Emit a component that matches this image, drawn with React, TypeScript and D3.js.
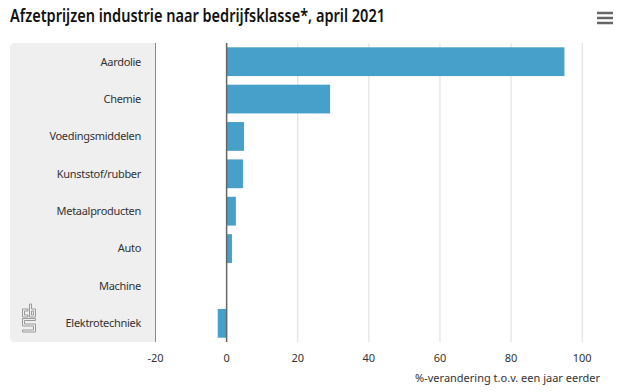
import React from "react";
import * as d3 from "d3";

const categories = [
  "Aardolie",
  "Chemie",
  "Voedingsmiddelen",
  "Kunststof/rubber",
  "Metaalproducten",
  "Auto",
  "Machine",
  "Elektrotechniek",
];
const values = [95.0, 29.1, 4.9, 4.6, 2.6, 1.5, 0.0, -2.5];
const xTicks = [-20, 0, 20, 40, 60, 80, 100];
const title = "Afzetprijzen industrie naar bedrijfsklasse*, april 2021";
const axisTitle = "%-verandering t.o.v. een jaar eerder";

const W = 625;
const H = 392;
const FONT = "'Noto Sans', 'Open Sans', sans-serif";

export default function App() {
  const plotTop = 43;
  const plotBottom = 342;
  const x = d3.scaleLinear().domain([-20, 105]).range([155.5, 600]);
  const y = d3
    .scaleBand<string>()
    .domain(categories)
    .range([plotTop, plotBottom])
    .paddingInner(0.23)
    .paddingOuter(0.115);
  const x0 = x(0);

  return (
    <svg
      width={W}
      height={H}
      style={{ position: "absolute", left: 0, top: 0, background: "#fff" }}
      fontFamily={FONT}
    >
      <rect width={W} height={H} fill="#fff" />
      <text
        x={10}
        y={22}
        fontSize={18}
        fontWeight={600}
        fill="#111"
        textLength={375}
        lengthAdjust="spacingAndGlyphs"
      >
        {title}
      </text>
      {/* menu icon */}
      {[13, 18, 23].map((yy) => (
        <line key={yy} x1={597} x2={613} y1={yy} y2={yy} stroke="#666" strokeWidth={2.5} />
      ))}

      {/* label panel */}
      <path
        d={`M${x(-20)},${plotTop} L15,${plotTop} Q10,${plotTop} 10,${plotTop + 5} L10,${plotBottom - 5} Q10,${plotBottom} 15,${plotBottom} L${x(-20)},${plotBottom} Z`}
        fill="#efefef"
      />

      {/* grid */}
      {xTicks.map((t) => (
        <line
          key={t}
          x1={x(t)}
          x2={x(t)}
          y1={plotTop}
          y2={plotBottom}
          stroke={t === -20 ? "#8a8a8a" : "#dddddd"}
          strokeWidth={1}
        />
      ))}

      {/* bars */}
      {categories.map((c, i) => {
        const v = values[i];
        const x1 = x(Math.min(0, v));
        const x2 = x(Math.max(0, v));
        return (
          <rect
            key={c}
            x={x1}
            y={y(c)}
            width={Math.max(0, x2 - x1)}
            height={y.bandwidth()}
            fill="#47a0ca"
          />
        );
      })}

      {/* zero line */}
      <line x1={x0} x2={x0} y1={plotTop} y2={plotBottom} stroke="#666" strokeWidth={1.5} />

      {/* category labels */}
      {categories.map((c) => (
        <text
          key={c}
          x={141}
          y={(y(c) as number) + y.bandwidth() / 2}
          dy="0.35em"
          textAnchor="end"
          fontSize={11}
          letterSpacing={-0.3}
          fill="#333"
        >
          {c}
        </text>
      ))}

      {/* x tick labels */}
      {xTicks.map((t) => (
        <text key={t} x={x(t)} y={362} textAnchor="middle" fontSize={11} fill="#333">
          {t}
        </text>
      ))}
      <text x={600} y={382} textAnchor="end" fontSize={11} fill="#333">
        {axisTitle}
      </text>

      {/* CBS logo */}
      <g fill="none" stroke="#9a9a9a" strokeWidth={1}>
        <path d="M22.5,309 L28,309 L28,311 L24.5,311 L24.5,315 L28,315 L28,317 L22.5,317 Z" />
        <path d="M29.5,304 L31.5,304 L31.5,309 L35.5,309 L35.5,317 L29.5,317 Z" />
        <path d="M31.5,311 L33.5,311 L33.5,315 L31.5,315 Z" />
        <path d="M22.5,318.5 L35.5,318.5 L35.5,320.5 L24.5,320.5 L24.5,324 L35.5,324 L35.5,332 L22.5,332 L22.5,330 L33.5,330 L33.5,326 L22.5,326 Z" />
      </g>
    </svg>
  );
}
